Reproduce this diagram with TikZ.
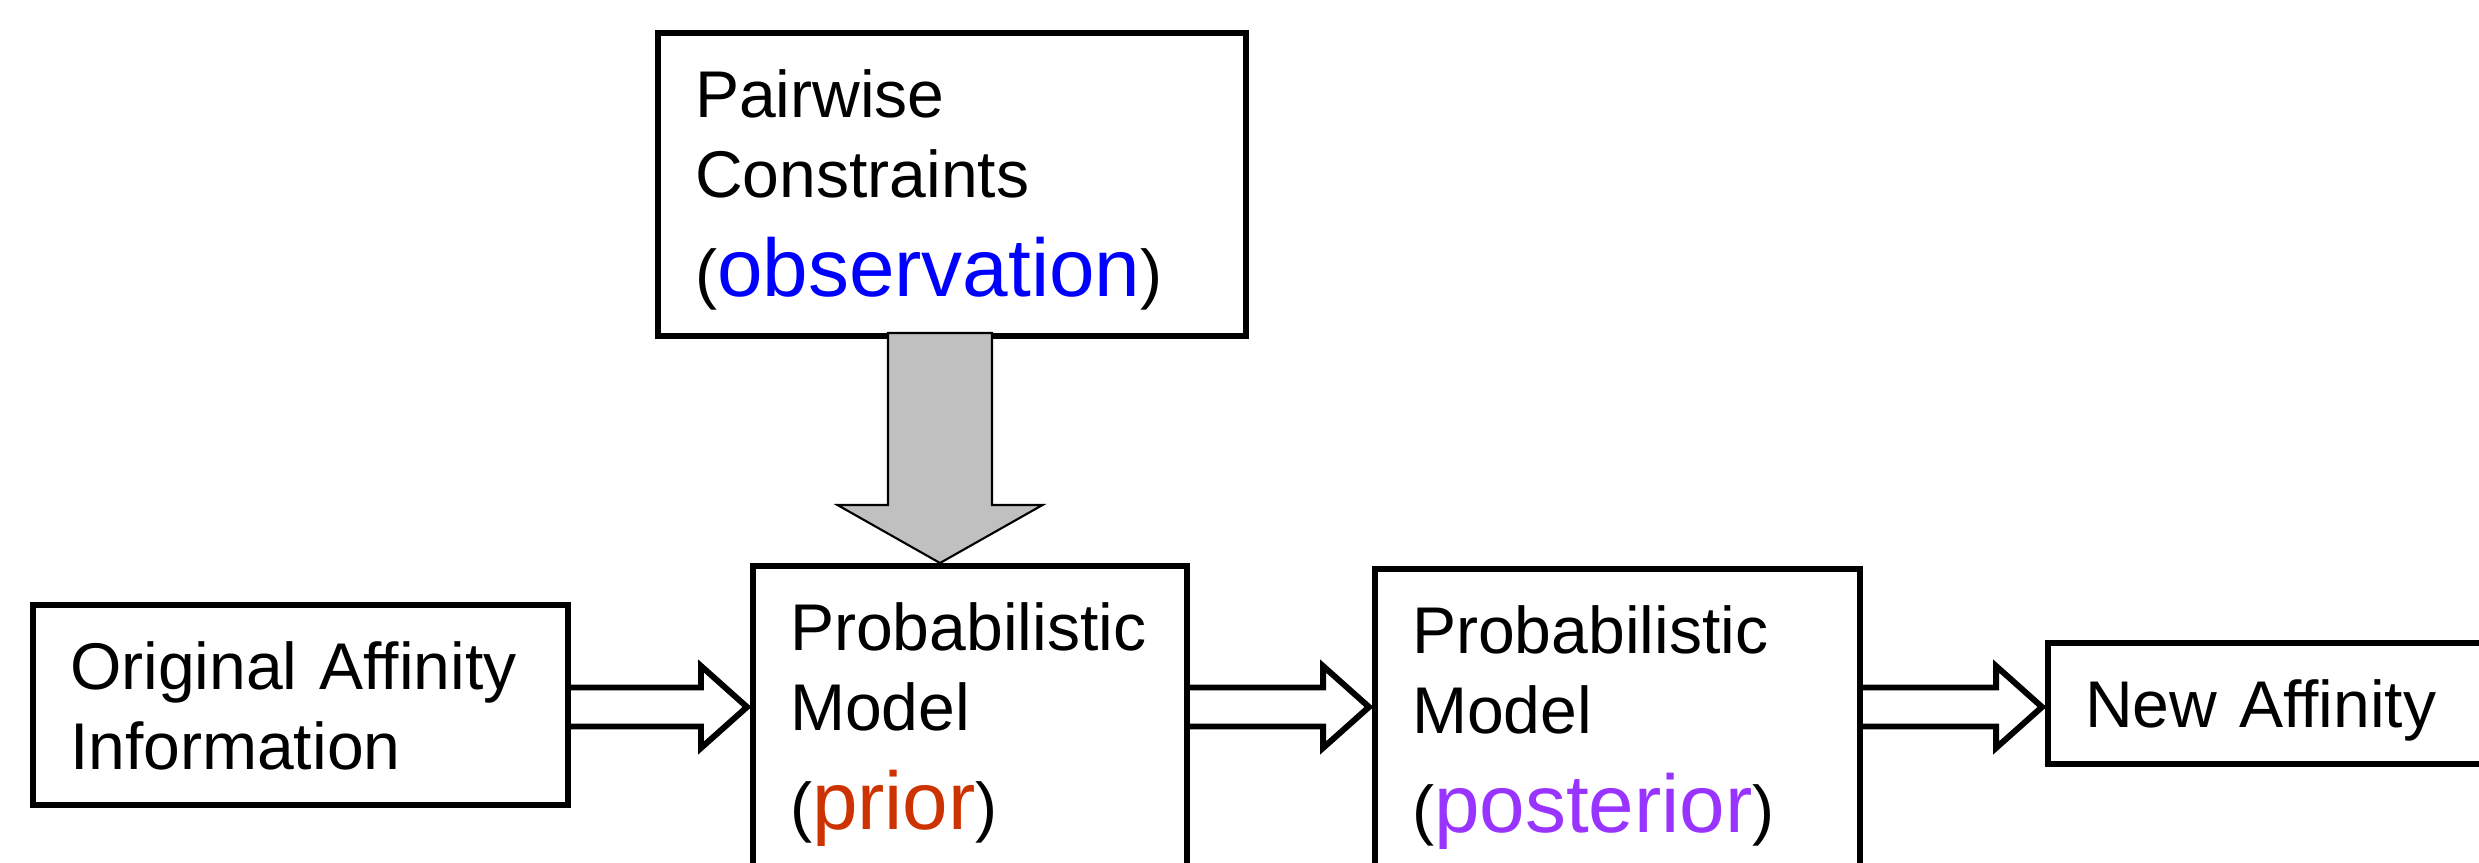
\documentclass[tikz,border=0pt]{standalone}
\usepackage{fontspec}
\setmainfont{Liberation Sans}
\usepackage{tikz}
\usetikzlibrary{calc}
\definecolor{obsblue}{RGB}{0,0,255}
\definecolor{priorred}{RGB}{204,51,0}
\definecolor{postpurple}{RGB}{153,51,255}
\definecolor{arrowgray}{RGB}{192,192,192}
\newcommand{\colword}[2]{{\fontsize{23.3pt}{28pt}\selectfont\color{#1}#2}}
\newcommand{\hollowarrow}[2]{%
  \draw[hollow] ($(#1.east |- axis)+(0,0.195)$) -- ($(#2.west |- axis)+(-0.52,0.195)$)
    -- ++(0,0.215) -- ($(#2.west |- axis)+(-0.06,0)$) -- ($(#2.west |- axis)+(-0.52,-0.41)$)
    -- ++(0,0.215) -- ($(#1.east |- axis)+(0,-0.195)$);}

\begin{document}
\begin{tikzpicture}[
  box/.style={draw,line width=1.7pt,outer sep=0pt,inner sep=0.37cm,align=left,
    anchor=north west,text height=0.47cm,font=\fontsize{18.8pt}{23pt}\selectfont},
  hollow/.style={draw,line width=1.7pt,line join=miter},
  fatgray/.style={draw,fill=arrowgray,line width=0.6pt}]
  \useasboundingbox (0,0) rectangle (24.79,8.62);
  \clip (0,0) rectangle (24.79,8.62);
  \coordinate (axis) at (0,1.55);
  \coordinate (gx) at (9.40,0);
  \node[box,text width=4.61cm,text depth=0.79cm] (orig) at (0.33,2.57) {Original Affinity\\Information};
  \node[box,text width=3.60cm,text depth=3cm] (prior) at (7.53,2.96) {Probabilistic\\Model\\[0.18cm](\colword{priorred}{prior})};
  \node[box,text width=4.11cm,text depth=3cm] (post) at (13.75,2.93) {Probabilistic\\Model\\[0.18cm](\colword{postpurple}{posterior})};
  \node[box,text width=4.60cm,text depth=0cm] (newaff) at (20.48,2.19) {New Affinity};
  \node[box,text width=5.14cm,text depth=1.82cm] (pairwise) at (6.58,8.29) {Pairwise\\Constraints\\[0.18cm](\colword{obsblue}{observation})};
  \hollowarrow{orig}{prior}
  \hollowarrow{prior}{post}
  \hollowarrow{post}{newaff}
  \draw[fatgray] ($(gx |- pairwise.south)+(-0.52,0.03)$) -- ($(gx |- prior.north)+(-0.52,0.61)$)
    -- ++(-0.505,0) -- ($(gx |- prior.north)+(0,0.03)$) -- ($(gx |- prior.north)+(1.025,0.61)$)
    -- ++(-0.505,0) -- ($(gx |- pairwise.south)+(0.52,0.03)$) -- cycle;
\end{tikzpicture}
\end{document}
